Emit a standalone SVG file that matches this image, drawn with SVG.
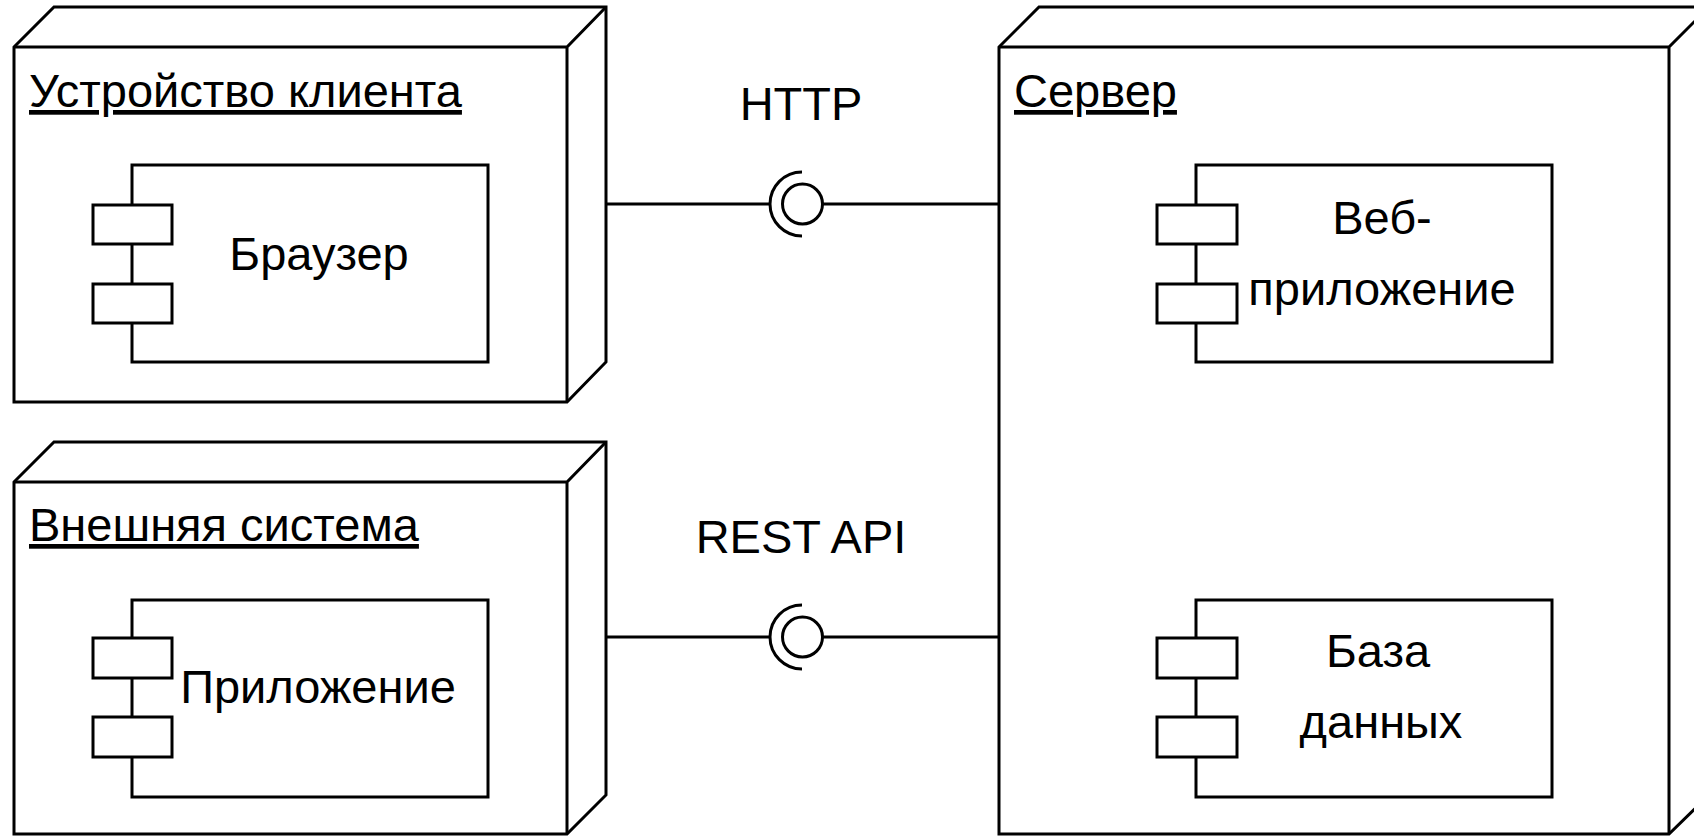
<svg xmlns="http://www.w3.org/2000/svg" width="1694" height="836" viewBox="0 0 1694 836">
  <style>
    .shape { fill: #ffffff; stroke: #000000; stroke-width: 3; stroke-linejoin: miter; }
    .edge { fill: none; stroke: #000000; stroke-width: 3; }
    .title { font-family: "Liberation Sans", Arial, sans-serif; font-size: 47px; fill: #000000; text-decoration: underline; }
    .label { font-family: "Liberation Sans", Arial, sans-serif; font-size: 47px; fill: #000000; text-anchor: middle; }
  </style>
  <rect x="0" y="0" width="1694" height="836" fill="#ffffff"/>

  <!-- Connectors: assembly links (ball and socket) -->
  <g id="connectors">
    <g id="link-http">
      <line class="edge" x1="606" y1="204" x2="771" y2="204"/>
      <path class="edge" d="M 802 172 A 32 32 0 0 0 802 236"/>
      <circle class="edge" cx="802.5" cy="204" r="20"/>
      <line class="edge" x1="822.5" y1="204" x2="999" y2="204"/>
      <text class="label" x="801" y="120">HTTP</text>
    </g>
    <g id="link-rest">
      <line class="edge" x1="606" y1="637" x2="771" y2="637"/>
      <path class="edge" d="M 802 605 A 32 32 0 0 0 802 669"/>
      <circle class="edge" cx="802.5" cy="637" r="20"/>
      <line class="edge" x1="822.5" y1="637" x2="999" y2="637"/>
      <text class="label" x="801" y="553">REST API</text>
    </g>
  </g>

  <!-- Node: client device -->
  <g id="node-client">
    <path class="shape" d="M 14 47 L 54 7 L 606 7 L 606 362 L 567 402 L 14 402 Z"/>
    <path class="edge" d="M 14 47 L 567 47 L 606 7 M 567 47 L 567 402"/>
    <text class="title" x="29" y="107">Устройство клиента</text>
    <g id="comp-browser">
      <rect class="shape" x="132" y="165" width="356" height="197"/>
      <rect class="shape" x="93" y="205" width="79" height="39"/>
      <rect class="shape" x="93" y="284" width="79" height="39"/>
      <text class="label" x="319" y="270">Браузер</text>
    </g>
  </g>

  <!-- Node: external system -->
  <g id="node-external">
    <path class="shape" d="M 14 482 L 54 442 L 606 442 L 606 795 L 567 834 L 14 834 Z"/>
    <path class="edge" d="M 14 482 L 567 482 L 606 442 M 567 482 L 567 834"/>
    <text class="title" x="29" y="541">Внешняя система</text>
    <g id="comp-app">
      <rect class="shape" x="132" y="600" width="356" height="197"/>
      <rect class="shape" x="93" y="638" width="79" height="40"/>
      <rect class="shape" x="93" y="717" width="79" height="40"/>
      <text class="label" x="318" y="703">Приложение</text>
    </g>
  </g>

  <!-- Node: server -->
  <g id="node-server">
    <path class="shape" d="M 999 47 L 1039 7 L 1709 7 L 1709 795 L 1669 834 L 999 834 Z"/>
    <path class="edge" d="M 999 47 L 1669 47 L 1709 7 M 1669 47 L 1669 834"/>
    <text class="title" x="1014" y="107">Сервер</text>
    <g id="comp-webapp">
      <rect class="shape" x="1196" y="165" width="356" height="197"/>
      <rect class="shape" x="1157" y="205" width="80" height="39"/>
      <rect class="shape" x="1157" y="284" width="80" height="39"/>
      <text class="label" x="1382" y="234">Веб-</text>
      <text class="label" x="1382" y="305">приложение</text>
    </g>
    <g id="comp-db">
      <rect class="shape" x="1196" y="600" width="356" height="197"/>
      <rect class="shape" x="1157" y="638" width="80" height="40"/>
      <rect class="shape" x="1157" y="717" width="80" height="40"/>
      <text class="label" x="1378" y="667">База</text>
      <text class="label" x="1381" y="738">данных</text>
    </g>
  </g>
</svg>
